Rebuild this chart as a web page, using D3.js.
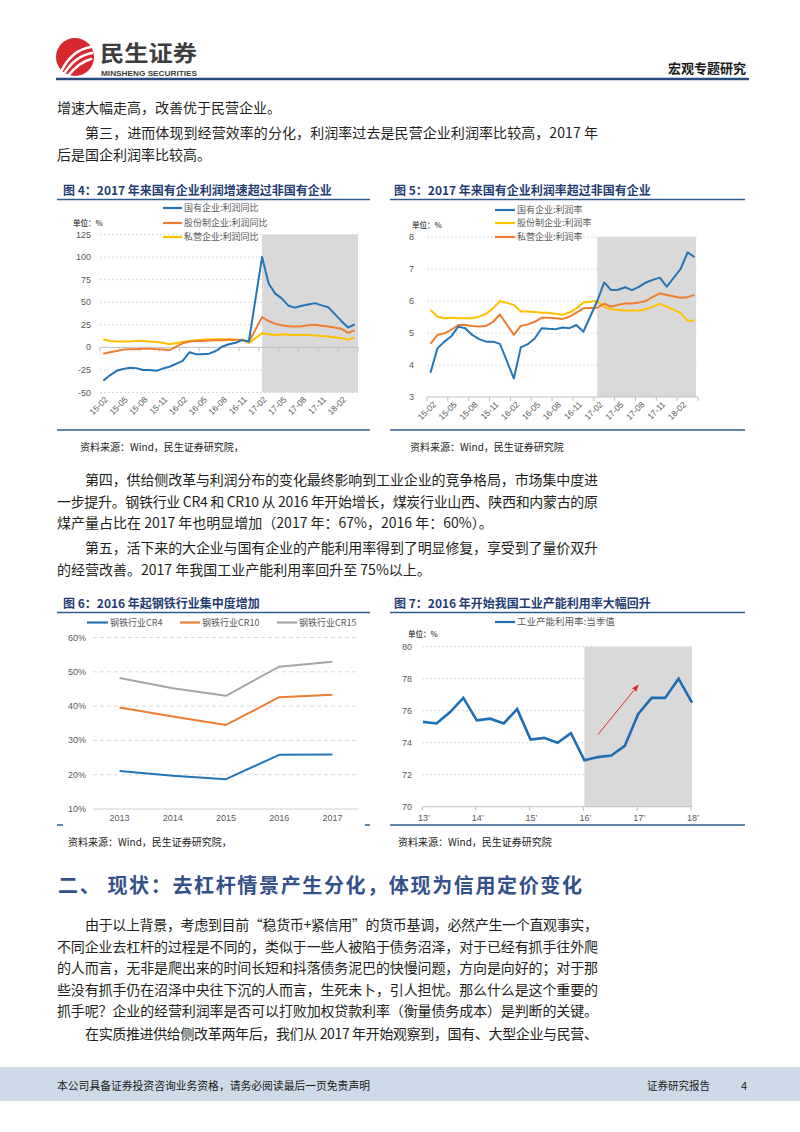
<!DOCTYPE html>
<html><head><meta charset="utf-8">
<script src="https://cdn.jsdelivr.net/npm/d3@7"></script>
<style>
body{margin:0;background:#fff;}
svg{display:block;}
</style></head><body>
<svg id="page" width="800" height="1132"></svg>
<script>
// ---------------- DATA ----------------
const months = ["15-02","15-03","15-04","15-05","15-06","15-07","15-08","15-09","15-10","15-11","15-12","16-01","16-02","16-03","16-04","16-05","16-06","16-07","16-08","16-09","16-10","16-11","16-12","17-01","17-02","17-03","17-04","17-05","17-06","17-07","17-08","17-09","17-10","17-11","17-12","18-01","18-02","18-03","18-04"];
const monthTickLabels = ["15-02","15-05","15-08","15-11","16-02","16-05","16-08","16-11","17-02","17-05","17-08","17-11","18-02"];
const shadeStartMonth = "17-02";

// Fig 4: profit growth YoY (%)
const fig4Names = ["国有企业:利润同比","股份制企业:利润同比","私营企业:利润同比"];
const soeProfitYoY = [-37,-31,-26,-24,-22.5,-23,-25,-25,-26,-23.5,-21.5,null,-15,-5.5,-7.5,-7.5,-7,-4,1,3.5,5,8,6.5,null,100,70.5,59.5,54,46,44,46,47.5,49,46.5,44.5,null,29,22,25.5];
const jointProfitYoY = [-7,-5.5,-4,-2.5,-2,-2,-1.5,-1.5,-2,-2.5,-3,null,4.5,6.5,7,7,7.5,8,8,8.5,8.5,8.5,6,null,33.5,29,26,24.5,23.5,23,23.5,24.5,25,24,23,null,20.5,16,19];
const privateProfitYoY = [9,7,6.5,6.5,6.5,7,7,6.5,6,5,3.5,null,6,7,8,8.5,9,9,9,9,8.5,8,5,null,15.5,14.5,13.5,14.5,14,13.5,14,14,13,12.5,12,null,10,8.5,11];
const fig4Ticks = [-50,-25,0,25,50,75,100,125];

// Fig 5: profit margin (%)
const fig5Names = ["国有企业:利润率","股份制企业:利润率","私营企业:利润率"];
const soeMargin = [3.76,4.52,4.73,4.9,5.2,5.15,4.94,4.81,4.73,4.73,4.66,null,3.58,4.55,4.65,4.83,5.15,5.13,5.12,5.17,5.15,5.25,5.04,null,6.0,6.58,6.34,6.35,6.43,6.34,6.44,6.58,6.66,6.73,6.45,null,7.0,7.52,7.37];
const jointMargin = [5.72,5.51,5.46,5.48,5.46,5.46,5.46,5.51,5.6,5.77,6.0,null,5.88,5.67,5.67,5.66,5.63,5.63,5.6,5.57,5.64,5.77,5.95,null,6.0,5.82,5.74,5.72,5.7,5.7,5.7,5.74,5.82,5.92,5.82,null,5.63,5.38,5.38];
const privateMargin = [4.66,4.94,4.99,5.1,5.25,5.25,5.22,5.2,5.22,5.35,5.58,null,4.94,5.22,5.27,5.35,5.48,5.48,5.46,5.44,5.51,5.64,5.77,null,5.79,5.92,5.82,5.88,5.92,5.92,5.95,6.0,6.13,6.24,6.19,null,6.1,6.12,6.19];
const fig5Ticks = [3,4,5,6,7,8];

// Fig 6: steel industry concentration
const years = ["2013","2014","2015","2016","2017"];
const fig6Names = ["钢铁行业CR4","钢铁行业CR10","钢铁行业CR15"];
const steelCR4 = [21.1,19.7,18.7,25.8,25.9];
const steelCR10 = [39.6,37.0,34.5,42.6,43.3];
const steelCR15 = [48.2,45.2,43.0,51.5,52.9];
const fig6Ticks = [10,20,30,40,50,60];

// Fig 7: industrial capacity utilization (quarterly)
const quarters = ["13Q1","13Q2","13Q3","13Q4","14Q1","14Q2","14Q3","14Q4","15Q1","15Q2","15Q3","15Q4","16Q1","16Q2","16Q3","16Q4","17Q1","17Q2","17Q3","17Q4","18Q1"];
const capUtil = [75.3,75.2,75.9,76.8,75.4,75.5,75.2,76.1,74.2,74.3,74.0,74.6,72.9,73.1,73.2,73.8,75.8,76.8,76.8,78.0,76.5];
const yearTickQuarters = ["13Q1","14Q1","15Q1","16Q1","17Q1","18Q1"];
const yearTickLabels = ["13’","14’","15’","16’","17’","18’"];
const fig7Ticks = [70,72,74,76,78,80];
const fig7Name = "工业产能利用率:当季值";
const fig7ShadeStart = "16Q1";
const fig7Arrow = {from:["16Q2",74.5], to:["17Q1",77.6]};

// ---------------- STYLE ----------------
const CJK = '"Noto Sans CJK SC","Noto Sans",sans-serif';
const AX = '"Liberation Sans",Arial,sans-serif';
const BLUE = "#2474b8", ORANGE = "#ed7d31", YELLOW = "#ffc000", GRAY = "#a5a5a5";
const SHADE = "#d9d9d9", GRID = "#d0d0d0", AXC = "#bfbfbf", LBL = "#595959";
const TITLE = "#1f3d72", RULE = "#2e5c8f";

const svg = d3.select("#page");

// ---------------- HEADER ----------------
svg.append("circle").attr("cx",75).attr("cy",57).attr("r",19).attr("fill","#d7282f");
[[62,70,72,50,91,47],[64,74,75,56,92,53],[67,77,79,62,91,59]].forEach(p=>{
  svg.append("path").attr("d",`M${p[0]},${p[1]} Q${p[2]},${p[3]} ${p[4]},${p[5]}`)
    .attr("fill","none").attr("stroke","#fff").attr("stroke-width",2.6).attr("stroke-linecap","round");
});
svg.append("text").attr("x",100).attr("y",61).text("民生证券")
  .attr("font-family",CJK).attr("font-weight","bold").attr("font-size",21.5).attr("fill","#3d3d3d")
  .attr("textLength",97).attr("lengthAdjust","spacingAndGlyphs");
svg.append("text").attr("x",101).attr("y",75.5).text("MINSHENG SECURITIES")
  .attr("font-family",AX).attr("font-weight","bold").attr("font-size",8).attr("fill","#3d3d3d")
  .attr("textLength",96).attr("lengthAdjust","spacingAndGlyphs");
svg.append("text").attr("x",746).attr("y",73).attr("text-anchor","end").text("宏观专题研究")
  .attr("font-family",CJK).attr("font-weight","bold").attr("font-size",13).attr("fill","#1a1a1a");
svg.append("line").attr("x1",56).attr("x2",749).attr("y1",79).attr("y2",79)
  .attr("stroke","#244c7e").attr("stroke-width",2.5);

// ---------------- BODY TEXT ----------------
const bodyLines = [
  ["增速大幅走高，改善优于民营企业。",57,108,false],
  ["第三，进而体现到经营效率的分化，利润率过去是民营企业利润率比较高，2017 年",85,133,true],
  ["后是国企利润率比较高。",57,155,false],
  ["第四，供给侧改革与利润分布的变化最终影响到工业企业的竞争格局，市场集中度进",85,480,true],
  ["一步提升。钢铁行业 CR4 和 CR10 从 2016 年开始增长，煤炭行业山西、陕西和内蒙古的原",57,502,true],
  ["煤产量占比在 2017 年也明显增加（2017 年：67%，2016 年：60%）。",57,523,false],
  ["第五，活下来的大企业与国有企业的产能利用率得到了明显修复，享受到了量价双升",85,548,true],
  ["的经营改善。2017 年我国工业产能利用率回升至 75%以上。",57,570,false],
  ["由于以上背景，考虑到目前“稳货币+紧信用”的货币基调，必然产生一个直观事实，",85,925,true],
  ["不同企业去杠杆的过程是不同的，类似于一些人被陷于债务沼泽，对于已经有抓手往外爬",57,946.5,true],
  ["的人而言，无非是爬出来的时间长短和抖落债务泥巴的快慢问题，方向是向好的；对于那",57,968,true],
  ["些没有抓手仍在沼泽中央往下沉的人而言，生死未卜，引人担忧。那么什么是这个重要的",57,989.5,true],
  ["抓手呢？企业的经营利润率是否可以打败加权贷款利率（衡量债务成本）是判断的关键。",57,1011,true],
  ["在实质推进供给侧改革两年后，我们从 2017 年开始观察到，国有、大型企业与民营、",85,1034,true]
];
bodyLines.forEach(([t,x,y,j])=>{
  const el = svg.append("text").attr("x",x).attr("y",y+5).text(t)
    .attr("font-family",CJK).attr("font-size",14).attr("fill","#231f20");
  if (j) el.attr("textLength",598-x).attr("lengthAdjust","spacing");
});
svg.append("text").attr("x",58).attr("y",893).text("二、 现状：去杠杆情景产生分化，体现为信用定价变化")
  .attr("font-family",CJK).attr("font-weight","bold").attr("font-size",20).attr("fill","#34508a")
  .attr("textLength",524).attr("lengthAdjust","spacing");

// ---------------- FOOTER ----------------
svg.append("rect").attr("x",0).attr("y",1067).attr("width",800).attr("height",34).attr("fill","#cddbe9");
svg.append("text").attr("x",57).attr("y",1090).text("本公司具备证券投资咨询业务资格，请务必阅读最后一页免责声明")
  .attr("font-family",CJK).attr("font-size",11).attr("fill","#1a1a1a").attr("textLength",313).attr("lengthAdjust","spacingAndGlyphs");
svg.append("text").attr("x",647).attr("y",1090).text("证券研究报告")
  .attr("font-family",CJK).attr("font-size",11).attr("fill","#1a1a1a").attr("textLength",63).attr("lengthAdjust","spacingAndGlyphs");
svg.append("text").attr("x",744).attr("y",1090).attr("text-anchor","middle").text("4")
  .attr("font-family",CJK).attr("font-size",11).attr("fill","#1a1a1a");

// ---------------- HELPERS ----------------
function titleBlock(x, y, text, x1, x2, yr){
  svg.append("text").attr("x",x).attr("y",y+4.5).text(text)
    .attr("font-family",CJK).attr("font-weight","bold").attr("font-size",12).attr("fill",TITLE);
  svg.append("line").attr("x1",x1).attr("x2",x2).attr("y1",yr).attr("y2",yr)
    .attr("stroke",RULE).attr("stroke-width",1.5);
}
function sourceText(x, y, text){
  svg.append("text").attr("x",x).attr("y",y+4).text(text)
    .attr("font-family",CJK).attr("font-size",10).attr("fill","#222");
}
function legendRow(g, x1, x2, y, color, text, fs){
  g.append("line").attr("x1",x1).attr("x2",x2).attr("y1",y).attr("y2",y).attr("stroke",color).attr("stroke-width",2.2);
  g.append("text").attr("x",x2+2).attr("y",y+3.2).text(text)
    .attr("font-family",CJK).attr("font-size",fs).attr("fill",LBL);
}
function unitLabel(g, x, y){
  g.append("text").attr("x",x).attr("y",y+3).text("单位：%")
    .attr("font-family",CJK).attr("font-weight","bold").attr("font-size",7.5).attr("fill",LBL);
}

// ---------------- FIG 4 ----------------
titleBlock(63,190,"图 4：2017 年来国有企业利润增速超过非国有企业",57,370,199.5);
{
  const g = svg.append("g");
  const x = d3.scaleBand().domain(months).range([100,358]);
  const y = d3.scaleLinear().domain([-50,125]).range([392.5,234.5]);
  const cx = m => x(m)+x.bandwidth()/2;
  g.selectAll(".gl").data(fig4Ticks.filter(t=>t!==0)).enter().append("line")
    .attr("x1",100).attr("x2",358).attr("y1",d=>y(d)).attr("y2",d=>y(d))
    .attr("stroke",GRID).attr("stroke-dasharray","2,2").attr("stroke-width",0.8);
  g.append("rect").attr("x",cx(shadeStartMonth)).attr("y",y(125)).attr("width",358-cx(shadeStartMonth))
    .attr("height",y(-50)-y(125)).attr("fill",SHADE);
  g.append("line").attr("x1",100).attr("x2",358).attr("y1",y(0)).attr("y2",y(0)).attr("stroke",AXC).attr("stroke-width",1);
  const bounds = d3.range(0, months.length+1, 3);
  g.selectAll(".tk").data(bounds).enter().append("line")
    .attr("x1",d=>100+d*x.step()).attr("x2",d=>100+d*x.step()).attr("y1",y(0)).attr("y2",y(0)+4)
    .attr("stroke",AXC);
  g.selectAll(".yl").data(fig4Ticks).enter().append("text")
    .attr("x",91).attr("y",d=>y(d)+3).attr("text-anchor","end").text(d=>d)
    .attr("font-family",AX).attr("font-size",9).attr("fill",LBL);
  g.selectAll(".xl").data(monthTickLabels).enter().append("text")
    .attr("transform",d=>`translate(${cx(d)+3},${398}) rotate(-45)`).attr("text-anchor","end").attr("dy","0.35em").text(d=>d)
    .attr("font-family",AX).attr("font-size",8.5).attr("fill",LBL);
  const series = [[privateProfitYoY,YELLOW],[jointProfitYoY,ORANGE],[soeProfitYoY,BLUE]];
  const line = d3.line().x(d=>cx(d.m)).y(d=>y(d.v));
  series.forEach(([vals,col])=>{
    const data = months.map((m,i)=>({m,v:vals[i]})).filter(d=>d.v!=null);
    g.append("path").datum(data).attr("d",line).attr("fill","none").attr("stroke",col)
      .attr("stroke-width",2).attr("stroke-linejoin","round");
  });
  legendRow(g,163,182,208,BLUE,fig4Names[0],9);
  legendRow(g,163,182,223,ORANGE,fig4Names[1],9);
  legendRow(g,163,182,237,YELLOW,fig4Names[2],9);
  unitLabel(g,73,223);
}
svg.append("line").attr("x1",57).attr("x2",370).attr("y1",430).attr("y2",430).attr("stroke",RULE).attr("stroke-width",1.5);
sourceText(80,447,"资料来源：Wind，民生证券研究院，");

// ---------------- FIG 5 ----------------
titleBlock(394,190,"图 5：2017 年来国有企业利润率超过非国有企业",390,745,199.5);
{
  const g = svg.append("g");
  const x = d3.scaleBand().domain(months).range([427,698]);
  const y = d3.scaleLinear().domain([3,8]).range([397,237]);
  const cx = m => x(m)+x.bandwidth()/2;
  g.selectAll(".gl").data(fig5Ticks.filter(t=>t!==3)).enter().append("line")
    .attr("x1",427).attr("x2",698).attr("y1",d=>y(d)).attr("y2",d=>y(d))
    .attr("stroke",GRID).attr("stroke-dasharray","2,2").attr("stroke-width",0.8);
  g.append("rect").attr("x",cx(shadeStartMonth)).attr("y",y(8)).attr("width",696-cx(shadeStartMonth))
    .attr("height",y(3)-y(8)).attr("fill",SHADE);
  g.append("line").attr("x1",427).attr("x2",698).attr("y1",y(3)).attr("y2",y(3)).attr("stroke",AXC);
  const bounds = d3.range(0, months.length+1, 3);
  g.selectAll(".tk").data(bounds).enter().append("line")
    .attr("x1",d=>427+d*x.step()).attr("x2",d=>427+d*x.step()).attr("y1",y(3)).attr("y2",y(3)+4)
    .attr("stroke",AXC);
  g.selectAll(".yl").data(fig5Ticks).enter().append("text")
    .attr("x",414).attr("y",d=>y(d)+3).attr("text-anchor","end").text(d=>d)
    .attr("font-family",AX).attr("font-size",9).attr("fill",LBL);
  g.selectAll(".xl").data(monthTickLabels).enter().append("text")
    .attr("transform",d=>`translate(${cx(d)+4},${403}) rotate(-45)`).attr("text-anchor","end").attr("dy","0.35em").text(d=>d)
    .attr("font-family",AX).attr("font-size",8.5).attr("fill",LBL);
  const series = [[jointMargin,YELLOW],[privateMargin,ORANGE],[soeMargin,BLUE]];
  const line = d3.line().x(d=>cx(d.m)).y(d=>y(d.v));
  series.forEach(([vals,col])=>{
    const data = months.map((m,i)=>({m,v:vals[i]})).filter(d=>d.v!=null);
    g.append("path").datum(data).attr("d",line).attr("fill","none").attr("stroke",col)
      .attr("stroke-width",2).attr("stroke-linejoin","round");
  });
  legendRow(g,495,515,210,BLUE,fig5Names[0],9);
  legendRow(g,495,515,223,YELLOW,fig5Names[1],9);
  legendRow(g,495,515,237,ORANGE,fig5Names[2],9);
  unitLabel(g,412,225);
}
svg.append("line").attr("x1",390).attr("x2",745).attr("y1",430).attr("y2",430).attr("stroke",RULE).attr("stroke-width",1.5);
sourceText(410,447,"资料来源：Wind，民生证券研究院");

// ---------------- FIG 6 ----------------
titleBlock(63,603,"图 6：2016 年起钢铁行业集中度增加",57,370,612.5);
{
  const g = svg.append("g");
  const x = d3.scaleBand().domain(years).range([93,359]);
  const y = d3.scaleLinear().domain([10,60]).range([809,637.5]);
  const cx = m => x(m)+x.bandwidth()/2;
  g.selectAll(".gl").data(fig6Ticks.filter(t=>t!==10)).enter().append("line")
    .attr("x1",93).attr("x2",359).attr("y1",d=>y(d)).attr("y2",d=>y(d))
    .attr("stroke",GRID).attr("stroke-dasharray","4,3").attr("stroke-width",0.8);
  g.append("line").attr("x1",93).attr("x2",359).attr("y1",y(10)).attr("y2",y(10)).attr("stroke",GRID);
  g.selectAll(".yl").data(fig6Ticks).enter().append("text")
    .attr("x",86).attr("y",d=>y(d)+3).attr("text-anchor","end").text(d=>d+"%")
    .attr("font-family",AX).attr("font-size",9).attr("fill",LBL);
  g.selectAll(".xl").data(years).enter().append("text")
    .attr("x",d=>cx(d)).attr("y",821).attr("text-anchor","middle").text(d=>d)
    .attr("font-family",AX).attr("font-size",9).attr("fill",LBL);
  const series = [[steelCR15,GRAY],[steelCR10,ORANGE],[steelCR4,BLUE]];
  const line = d3.line().x(d=>cx(d.m)).y(d=>y(d.v));
  series.forEach(([vals,col])=>{
    const data = years.map((m,i)=>({m,v:vals[i]}));
    g.append("path").datum(data).attr("d",line).attr("fill","none").attr("stroke",col)
      .attr("stroke-width",2).attr("stroke-linejoin","round");
  });
  legendRow(g,87,108,622.5,BLUE,fig6Names[0],9);
  legendRow(g,180,200,622.5,ORANGE,fig6Names[1],9);
  legendRow(g,277,297,622.5,GRAY,fig6Names[2],9);
}
svg.append("line").attr("x1",57).attr("x2",63).attr("y1",825).attr("y2",825).attr("stroke",RULE).attr("stroke-width",1.5);
svg.append("line").attr("x1",365).attr("x2",370).attr("y1",825).attr("y2",825).attr("stroke",RULE).attr("stroke-width",1.5);
sourceText(68,842,"资料来源：Wind，民生证券研究院，");

// ---------------- FIG 7 ----------------
titleBlock(394,603,"图 7：2016 年开始我国工业产能利用率大幅回升",390,745,612.5);
{
  const g = svg.append("g");
  const x = d3.scalePoint().domain(quarters).range([423,692]);
  const y = d3.scaleLinear().domain([70,80]).range([806.7,646.7]);
  g.selectAll(".gl").data(fig7Ticks.filter(t=>t!==70)).enter().append("line")
    .attr("x1",422).attr("x2",692).attr("y1",d=>y(d)).attr("y2",d=>y(d))
    .attr("stroke",GRID).attr("stroke-dasharray","2,2").attr("stroke-width",0.8);
  g.append("rect").attr("x",x(fig7ShadeStart)).attr("y",y(80)).attr("width",692-x(fig7ShadeStart))
    .attr("height",y(70)-y(80)).attr("fill",SHADE);
  g.append("line").attr("x1",422).attr("x2",692).attr("y1",y(70)).attr("y2",y(70)).attr("stroke",AXC);
  g.selectAll(".tk").data(yearTickQuarters).enter().append("line")
    .attr("x1",d=>x(d)-1).attr("x2",d=>x(d)-1).attr("y1",y(70)).attr("y2",y(70)+4).attr("stroke",AXC);
  g.selectAll(".yl").data(fig7Ticks).enter().append("text")
    .attr("x",412).attr("y",d=>y(d)+3).attr("text-anchor","end").text(d=>d)
    .attr("font-family",AX).attr("font-size",9).attr("fill",LBL);
  g.selectAll(".xl").data(yearTickQuarters).enter().append("text")
    .attr("x",d=>x(d)+1).attr("y",821).attr("text-anchor","middle").text((d,i)=>yearTickLabels[i])
    .attr("font-family",AX).attr("font-size",9).attr("fill",LBL);
  const line = d3.line().x(d=>x(d.m)).y(d=>y(d.v));
  const data = quarters.map((m,i)=>({m,v:capUtil[i]}));
  g.append("path").datum(data).attr("d",line).attr("fill","none").attr("stroke","#1f6db3")
    .attr("stroke-width",2.6).attr("stroke-linejoin","miter");
  const defs = svg.append("defs");
  defs.append("marker").attr("id","arr").attr("viewBox","0 0 10 10").attr("refX",9).attr("refY",5)
    .attr("markerWidth",7).attr("markerHeight",7).attr("orient","auto")
    .append("path").attr("d","M0,1 L10,5 L0,9 Z").attr("fill","#e3262b");
  g.append("line").attr("x1",x(fig7Arrow.from[0])).attr("y1",y(fig7Arrow.from[1]))
    .attr("x2",x(fig7Arrow.to[0])).attr("y2",y(fig7Arrow.to[1]))
    .attr("stroke","#e3262b").attr("stroke-width",1).attr("marker-end","url(#arr)");
  legendRow(g,495,515,622,"#1f6db3",fig7Name,9.5);
  unitLabel(g,408,634);
}
svg.append("line").attr("x1",390).attr("x2",745).attr("y1",825).attr("y2",825).attr("stroke",RULE).attr("stroke-width",1.5);
sourceText(398,842,"资料来源：Wind，民生证券研究院");
</script>
</body></html>
